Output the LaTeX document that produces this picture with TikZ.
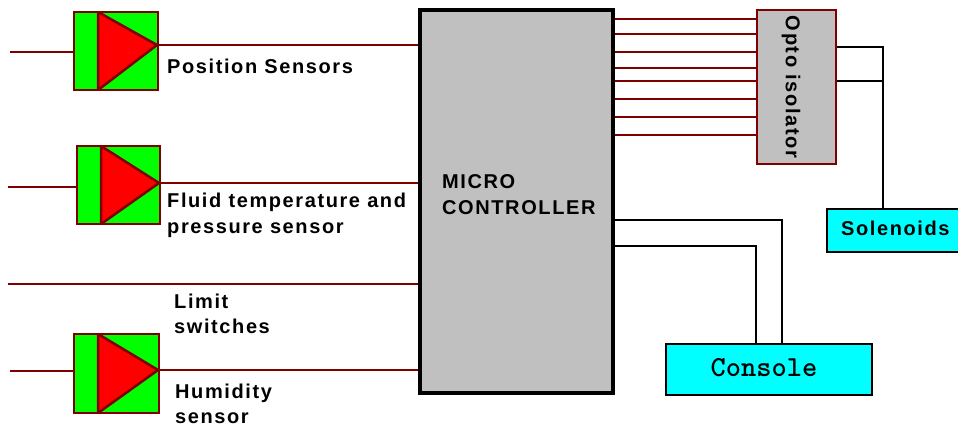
\documentclass[tikz,border=0pt]{standalone}
\usepackage{fontspec}
\setmainfont{Liberation Sans}
\newfontfamily\lblfont{Liberation Sans}[LetterSpace=8]
\definecolor{darkred}{RGB}{128,0,0}
\definecolor{mcgray}{RGB}{192,192,192}
\definecolor{brightgreen}{RGB}{0,255,0}
\definecolor{brightred}{RGB}{255,0,0}
\definecolor{brightcyan}{RGB}{0,255,255}
\pgfdeclarelayer{bg}
\pgfsetlayers{bg,main}
\tikzset{
  wire/.style={draw=darkred, line width=2.5},
  blk/.style={draw=black, line width=2.2},
  sensorbox/.style={draw=darkred, fill=brightgreen, line width=2.5, inner sep=0, rectangle},
  tri/.style={fill=brightred, draw=darkred, line width=2.5, line join=bevel},
  lbl/.style={font=\lblfont\bfseries\fontsize{20}{24}\selectfont, inner sep=0, anchor=base west},
  mcbox/.style={draw=black, fill=mcgray, line width=4, inner sep=0, rectangle},
  optobox/.style={draw=darkred, fill=mcgray, line width=2.5, inner sep=0, rectangle},
  cyanbox/.style={draw=black, fill=brightcyan, line width=2.5, inner sep=0, rectangle},
}
\begin{document}
\begin{tikzpicture}[x=1pt,y=-1pt]
\useasboundingbox (0,0) rectangle (958,428);

% main blocks
\node[mcbox, minimum width=193, minimum height=383] (mc) at (516.5,201.5) {};
\node[optobox, minimum width=79, minimum height=154] (opto) at (796.5,87) {};
\node[cyanbox, minimum width=136, minimum height=43] (sol) at (895,230.5) {};
\node[cyanbox, minimum width=206, minimum height=51] (con) at (769,369.5) {};

% sensor boxes
\node[sensorbox, minimum width=84, minimum height=78] (s1) at (116,51) {};
\node[sensorbox, minimum width=83, minimum height=78] (s2) at (118.5,185) {};
\node[sensorbox, minimum width=85, minimum height=79] (s3) at (116.5,373.5) {};

% triangles
\coordinate (a1) at (157,45);
\coordinate (a2) at (159,183);
\coordinate (a3) at (158,370);
\draw[tri] (98,12) -- (a1) -- (98,90) -- cycle;
\draw[tri] (101,146) -- (a2) -- (101,224) -- cycle;
\draw[tri] (98,334) -- (a3) -- (98,413) -- cycle;

% input ends
\coordinate (in1) at (10,52);
\coordinate (in2) at (8,187);
\coordinate (in3) at (10,371);
\coordinate (lim) at (8,284);

\begin{pgfonlayer}{bg}
  \fill[white] (0,0) rectangle (958,428);
  \draw[wire] (in1) -- (s1.west |- in1);
  \draw[wire] (in2) -- (s2.west |- in2);
  \draw[wire] (in3) -- (s3.west |- in3);
  \draw[wire] (a1) -- (mc.west |- a1);
  \draw[wire] (a2) -- (mc.west |- a2);
  \draw[wire] (a3) -- (mc.west |- a3);
  \draw[wire] (lim) -- (mc.west |- lim);
  \foreach \yy in {19,34,52,68,81,99,117,135} {
    \draw[wire] (mc.east |- 0,\yy) -- (opto.west |- 0,\yy);
  }
  \draw[blk] (opto.east |- 0,47) -- (883,47) -- (sol.north -| 883,0);
  \draw[blk] (opto.east |- 0,81) -- (883,81);
  \draw[blk] (mc.east |- 0,220) -| (con.north -| 782,0);
  \draw[blk] (mc.east |- 0,246) -| (con.north -| 756,0);
\end{pgfonlayer}

% labels
\node[lbl] (l1) at (167,74) {Position Sensors};
\node[lbl] (l2a) at (167,207) {Fluid temperature and};
\node[lbl] (l2b) at (167,233) {pressure sensor};
\node[lbl] (l3a) at (174,308) {Limit};
\node[lbl] (l3b) at (174,333) {switches};
\node[lbl] (l4a) at (175,398) {Humidity};
\node[lbl] (l4b) at (175,423) {sensor};
\node[lbl] (m1) at (442,188) {MICRO};
\node[lbl] (m2) at (442,214) {CONTROLLER};
\node[lbl] (solt) at (841,235) {Solenoids};
\node[lbl, anchor=center, rotate=-90] (optot) at (791,87) {Opto isolator};
\node[font=\ttfamily\bfseries\fontsize{29}{33}\selectfont, inner sep=0, anchor=base] (cont) at (764,376) {Console};
\end{tikzpicture}
\end{document}
